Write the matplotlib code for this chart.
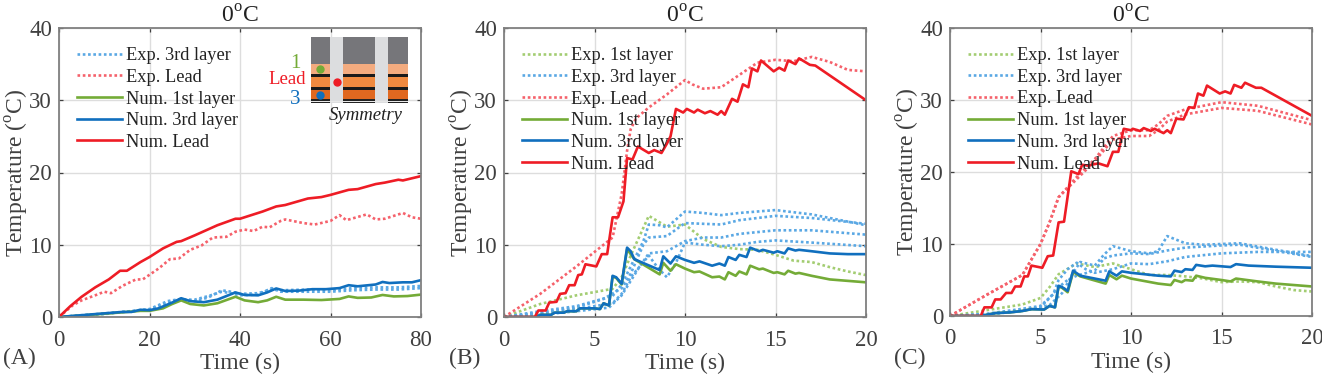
"""Temperature vs time at 0 C, three panels, with a cell schematic inset."""

import matplotlib

matplotlib.use("Agg")
import matplotlib.pyplot as plt
from matplotlib.patches import Rectangle

plt.rcParams["font.family"] = ["Liberation Serif", "DejaVu Serif"]
plt.rcParams["mathtext.fontset"] = "custom"
plt.rcParams["mathtext.rm"] = "Liberation Serif"

W, H = 1322, 377
GREEN, BLUE, RED = "#74ab37", "#106fbe", "#ee1c25"
GREEN_D, BLUE_D, RED_D = "#a3cd72", "#5aa8e4", "#f5616b"
TEXT = "#404040"

# panel A
a_lead_num_t = [0, 2.5, 5, 8, 11, 13.5, 15, 18, 20, 23, 26, 27, 30, 35, 39, 40, 45, 48, 50, 55, 58, 60, 64, 66, 70, 72, 75, 76, 80]
a_lead_num = [0, 1.5, 2.8, 4.1, 5.2, 6.4, 6.4, 7.6, 8.3, 9.5, 10.4, 10.5, 11.3, 12.7, 13.6, 13.6, 14.6, 15.3, 15.5, 16.4, 16.6, 16.9, 17.6, 17.7, 18.4, 18.6, 19.0, 18.9, 19.5]
a_lead_exp_t = [0, 3, 5, 8, 10, 11.5, 14, 17, 18.5, 22, 24.5, 26.5, 29, 31.5, 34, 37, 39, 41, 43, 45, 46.5, 49, 50, 54, 56.5, 60, 62, 63.5, 68, 70, 72, 76, 78, 80]
a_lead_exp = [0, 1.6, 2.3, 3.0, 3.5, 3.3, 4.3, 5.2, 5.2, 6.7, 8.0, 8.1, 9.3, 9.9, 11.0, 11.1, 11.8, 12.1, 11.9, 12.5, 12.4, 13.3, 13.5, 13.0, 12.8, 13.3, 14.1, 13.4, 14.2, 13.5, 13.6, 14.4, 13.8, 13.6]
a_l3_num_t = [0, 5, 11, 14, 16, 18, 20, 22, 25, 27, 29, 32, 35, 39, 41, 44, 46, 48, 50, 53, 56, 59, 62, 64, 66, 70, 71.5, 73, 76, 78, 80]
a_l3_num = [0, 0.25, 0.55, 0.7, 0.7, 1.0, 0.95, 1.2, 2.0, 2.6, 2.2, 2.05, 2.4, 3.4, 3.05, 3.0, 3.4, 3.95, 3.6, 3.65, 3.85, 3.85, 4.0, 4.4, 4.25, 4.5, 4.85, 4.7, 4.8, 4.8, 5.1]
a_l1_num_t = [0, 5, 11, 14, 18, 20, 23, 25, 27, 29, 32, 35, 39, 41, 44, 46, 48, 50, 54, 58, 62, 64, 66, 69, 71.5, 74, 77, 80]
a_l1_num = [0, 0.2, 0.5, 0.65, 0.85, 0.85, 1.2, 1.8, 2.3, 1.8, 1.6, 1.9, 2.8, 2.3, 2.05, 2.3, 2.8, 2.4, 2.4, 2.35, 2.5, 2.85, 2.65, 2.7, 3.05, 2.85, 2.9, 3.1]
a_l3_exp_t = [0, 10, 20, 24, 27, 30, 33, 36, 38, 40, 44, 47, 49, 55, 60, 65, 70, 75, 80]
a_l3_exp1 = [0, 0.5, 1.0, 2.0, 2.4, 2.4, 2.9, 3.5, 3.3, 3.0, 3.1, 4.0, 3.5, 3.5, 3.5, 3.7, 3.8, 3.8, 4.0]
a_l3_exp2 = [0, 0.4, 1.1, 2.2, 2.5, 2.2, 2.7, 3.7, 3.5, 3.2, 3.3, 3.8, 3.7, 3.8, 3.7, 4.0, 4.1, 4.1, 4.3]

# panel B
b_lead_num_t = [0, 1.7, 1.9, 2.3, 2.5, 2.9, 3.1, 3.4, 3.6, 3.9, 4.1, 4.3, 4.5, 5.1, 5.4, 5.7, 6.0, 6.3, 6.6, 6.8, 7.1, 7.4, 8, 8.3, 8.7, 9.0, 9.2, 9.5, 9.9, 10.1, 10.5, 10.7, 11.1, 11.4, 11.8, 12.0, 12.2, 12.6, 12.9, 13.2, 13.5, 13.7, 14, 14.2, 14.9, 15.2, 15.5, 15.7, 16.1, 16.3, 16.9, 17.2, 20]
b_lead_num = [0, 0, 0.9, 0.9, 2, 2.1, 3.2, 3.3, 4.4, 4.4, 5.8, 5.9, 7.3, 7, 8.7, 8.7, 13.8, 13.8, 16, 22, 21.8, 23.6, 22.7, 23.1, 22.7, 24, 25, 28.8, 28.3, 28.8, 28.3, 28.7, 28.2, 28.5, 28, 28.5, 28, 30.2, 29.8, 32.2, 31.8, 34.4, 34, 35.5, 34, 34.5, 34.1, 35.5, 35, 35.8, 34.9, 34.8, 30]
b_lead_exp_t = [0, 2, 4, 5.5, 6, 6.5, 6.8, 7, 7.3, 8, 9, 10, 10.4, 11, 12, 13, 14, 15, 16, 17, 18, 19, 20]
b_lead_exp = [0, 3.2, 7, 10, 11, 17, 23, 26, 27.5, 29, 30.8, 32.8, 32.2, 31.6, 31.8, 33.5, 35.2, 35.6, 35.4, 36, 35.3, 34.2, 34]
b_l1_exp_t = [0, 2, 4, 6, 6.5, 7, 8, 9, 10, 11, 12, 13, 14, 15, 16, 17, 18, 19, 20]
b_l1_exp = [0, 1.8, 3, 3.9, 5.5, 8.5, 14, 12.5, 12.8, 10.8, 9.7, 9.4, 9.3, 8.6, 7.8, 7.6, 6.9, 6.3, 5.8]
b_l3_exp1_t = [0, 2, 4, 6, 6.5, 7, 7.7, 8, 8.6, 9, 10, 11, 12, 13, 15, 17, 20]
b_l3_exp1 = [0, 0.8, 1.5, 2.9, 4.5, 7, 10.5, 12.8, 12.7, 12.4, 14.6, 14.4, 14.1, 14.4, 14.8, 14.2, 12.7]
b_l3_exp2_t = [0, 2, 4, 5.5, 6.5, 7, 7.7, 8, 9, 10, 12, 13, 15, 17, 20]
b_l3_exp2 = [0, 0.6, 1.3, 2.5, 4, 6, 10, 11, 11.2, 13, 12.8, 13.4, 14, 13.7, 12.9]
b_l3_exp3_t = [0, 2, 4, 6, 6.5, 7, 8, 8.5, 9, 9.5, 10, 11, 12, 13, 14, 15, 17, 20]
b_l3_exp3 = [0, 0.5, 1.1, 1.9, 3.2, 5.5, 8.5, 6.8, 5.5, 7.5, 10.3, 10, 9.8, 10, 10.4, 10.6, 10.3, 9.8]
b_l3_exp4_t = [0, 2, 4, 5.8, 6.5, 7, 7.5, 8, 9, 10, 11, 12, 13, 15, 17, 20]
b_l3_exp4 = [0, 0.3, 0.8, 1.3, 3, 5, 7, 8.8, 9.1, 10.5, 11, 11, 11.5, 12, 12, 11.4]
b_l3_num_t = [0, 1.8, 2, 2.6, 2.8, 3.3, 3.5, 4, 4.2, 4.7, 5, 5.3, 5.5, 5.8, 6.0, 6.2, 6.5, 6.8, 7, 7.2, 8.6, 8.8, 9.2, 9.5, 10, 10.5, 10.8, 11.5, 11.9, 12.2, 12.4, 12.8, 13, 13.4, 13.6, 14.1, 14.3, 14.9, 15.1, 15.5, 15.7, 16.1, 16.3, 17, 18, 19, 20]
b_l3_num = [0, 0, 0.3, 0.3, 0.6, 0.6, 0.8, 0.8, 1.2, 1.2, 1.2, 1.1, 1.9, 1.6, 5.7, 5.5, 4.6, 9.6, 9.1, 8, 6.5, 8.4, 7.4, 8.4, 7.9, 7.5, 7.7, 7.1, 7.4, 7.1, 8.3, 7.9, 8.6, 8.3, 9.6, 9.1, 9.3, 8.9, 9.1, 8.8, 9.5, 9.2, 9.3, 9.1, 8.8, 8.7, 8.7]
b_l1_num_t = [0, 1.8, 2, 2.6, 2.8, 3.3, 3.5, 4, 4.2, 4.7, 5, 5.3, 5.5, 5.8, 6.0, 6.2, 6.5, 6.8, 7.2, 8.6, 8.8, 9.2, 9.5, 10, 10.5, 10.8, 11.5, 11.9, 12.2, 12.4, 12.8, 13, 13.4, 13.6, 14.1, 14.3, 14.9, 15.1, 15.5, 15.7, 16.1, 16.3, 17, 18, 19, 20]
b_l1_num = [0, 0, 0.3, 0.3, 0.6, 0.6, 0.8, 0.8, 1.2, 1.2, 1.2, 1.1, 1.9, 1.6, 5.6, 5.4, 4.5, 9.4, 8, 5.9, 7.5, 6.4, 7.3, 6.7, 6.2, 6.3, 5.5, 5.6, 5.2, 6.2, 5.7, 6.3, 5.9, 7.1, 6.6, 6.7, 6.1, 6.2, 5.9, 6.4, 6, 6.1, 5.7, 5.2, 5, 4.8]

# panel C
c_lead_num_t = [0, 1.7, 1.9, 2.3, 2.5, 2.8, 3.1, 3.4, 3.6, 3.9, 4.1, 4.3, 4.5, 5.1, 5.4, 5.7, 6, 6.3, 6.7, 7.1, 7.3, 7.6, 8.2, 8.7, 9, 9.3, 9.6, 10, 10.1, 10.5, 10.7, 11.1, 11.3, 11.8, 12, 12.2, 12.5, 12.9, 13.2, 13.5, 13.7, 14, 14.2, 14.9, 15.2, 15.5, 15.7, 16.1, 16.3, 16.9, 17.2, 20]
c_lead_num = [0, 0, 1.2, 1.2, 2.3, 2.3, 3.2, 3.2, 4.1, 4.1, 5.5, 5.5, 7, 6.7, 8.3, 8.4, 13, 13.1, 20.1, 19.7, 21, 20.9, 21.2, 20.8, 22.8, 22.8, 26, 25.8, 26, 25.7, 26.1, 25.7, 26, 25.4, 25.8, 25.4, 27.4, 27.3, 29, 28.9, 30.9, 30.6, 32, 30.9, 31.2, 30.9, 32.1, 31.7, 32.4, 31.7, 31.7, 27.8]
c_lead_exp_t = [0, 2, 4, 5, 5.5, 6, 7, 8, 9, 10, 11, 11.5, 12, 13, 15, 17, 20]
c_lead_exp1 = [0, 2.9, 5.7, 10, 13, 16.5, 19, 21.5, 24.5, 25, 25, 25.8, 27, 28, 28.9, 28.5, 26.6]
c_lead_exp2 = [0, 2.9, 5.7, 10, 13, 16.5, 19.3, 21.8, 25, 25.8, 25.8, 26.6, 27.8, 28.7, 29.7, 29.2, 27.2]
c_l1_exp_t = [0, 2, 4, 5, 5.5, 6, 7, 8, 9, 10, 11, 12, 13, 14, 15, 16, 17, 18, 19, 20]
c_l1_exp = [0, 0.8, 1.6, 2.5, 4, 5.8, 7.3, 6.8, 7.3, 6.5, 5.7, 5.7, 5.5, 5.2, 4.7, 4.8, 4.7, 4.1, 3.6, 3.4]
c_l3_exp1_t = [0, 2, 4, 5, 5.7, 6, 6.5, 7, 7.5, 8, 9, 10, 11, 12, 13, 15, 17, 20]
c_l3_exp1 = [0, 0.3, 1, 1.4, 3, 5, 6.5, 7.4, 6.5, 6, 6.5, 7.3, 7.2, 7.6, 8.2, 8.7, 8.9, 8.9]
c_l3_exp2_t = [0, 2, 4, 5, 5.5, 6, 6.5, 7, 8, 8.5, 9, 10, 11, 12, 13, 15, 16, 20]
c_l3_exp2 = [0, 0.2, 0.8, 1.2, 2.5, 4, 5, 5.6, 6.3, 8, 8.4, 8.7, 8.6, 9.1, 9.5, 9.8, 9.9, 8.2]
c_l3_exp3_t = [0, 2, 4, 5.5, 6.2, 6.8, 7.2, 8, 8.5, 9, 10, 11, 11.5, 12, 13, 14, 16, 20]
c_l3_exp3 = [0, 0.2, 0.7, 1.5, 3.2, 6, 7.5, 7, 8.5, 9.7, 9, 8.7, 9, 11.1, 10.1, 9.9, 10.1, 8.3]
c_l3_num_t = [0, 1.7, 2.5, 3.3, 4, 4.5, 5.2, 5.5, 5.8, 6, 6.2, 6.5, 6.8, 7.2, 8.6, 8.8, 9.2, 9.5, 10, 11.5, 12.2, 12.4, 12.8, 13, 13.4, 13.6, 14.1, 14.5, 15.5, 15.8, 16.5, 18, 20]
c_l3_num = [0, 0, 0.4, 0.5, 0.7, 0.95, 0.9, 1.4, 1.2, 4.2, 4, 3.5, 6.3, 5.6, 4.9, 6.2, 5.6, 6.2, 6, 5.6, 5.5, 6.3, 6.1, 6.5, 6.4, 7.1, 6.9, 7, 6.8, 7.2, 7, 6.85, 6.7]
c_l1_num_t = [0, 1.7, 2.5, 3.3, 4, 4.5, 5.2, 5.5, 5.8, 6, 6.2, 6.5, 6.8, 7.2, 8.6, 8.8, 9.2, 9.5, 10, 11.5, 12.2, 12.4, 12.8, 13, 13.4, 13.6, 14.1, 15, 15.5, 15.8, 17, 18, 20]
c_l1_num = [0, 0, 0.4, 0.5, 0.7, 0.95, 0.9, 1.4, 1.2, 4.1, 3.9, 3.3, 6.1, 5.5, 4.5, 5.7, 5.1, 5.6, 5.2, 4.5, 4.3, 5, 4.7, 5, 4.9, 5.6, 5.3, 5, 4.8, 5.2, 4.8, 4.5, 4.1]

panel_letters = ["(A)", "(B)", "(C)"]
y_ticks = [0, 10, 20, 30, 40]
a_x_ticks = [0, 20, 40, 60, 80]
bc_x_ticks = [0, 5, 10, 15, 20]

DOTS = (0, (1, 1))


def make_axes(fig, left, right, top, bottom, xmax, xticks):
    ax = fig.add_axes([left / W, 1 - bottom / H, (right - left) / W, (bottom - top) / H])
    ax.set_xlim(0, xmax)
    ax.set_ylim(0, 40)
    ax.set_xticks(xticks)
    ax.set_yticks(y_ticks)
    ax.grid(True, color="#dddddd", linewidth=1.0)
    ax.set_axisbelow(True)
    ax.tick_params(direction="in", length=3, width=0.9, color="#404040", top=True, right=True,
                   labelsize=16.5, labelcolor=TEXT, pad=5)
    ax.tick_params(axis="x", pad=9)
    for sp in ax.spines.values():
        sp.set_color("#808080")
        sp.set_linewidth(1.3)
    ax.set_title(r"0$^{\mathrm{o}}$C", fontsize=17, color="#222222", pad=4)
    ax.set_xlabel("Time (s)", fontsize=17, color=TEXT, labelpad=2)
    ax.set_ylabel(r"Temperature ($^{\mathrm{o}}$C)", fontsize=17, color=TEXT, labelpad=-1)
    return ax


def exp_line(ax, t, y, color, label=None):
    ax.plot(t, y, color=color, linestyle=DOTS, linewidth=1.9, label=label)


def num_line(ax, t, y, color, label=None):
    ax.plot(t, y, color=color, linewidth=1.9, label=label, solid_joinstyle="round")


def add_legend(ax):
    ax.legend(loc="upper left", bbox_to_anchor=(0.03, 0.959), frameon=False, fontsize=13.2,
              handlelength=2.45, handletextpad=0.2, labelspacing=0.255, borderaxespad=0,
              labelcolor="#222222")


def add_schematic(fig):
    # drawn in figure pixels
    ins = fig.add_axes([0, 0, 1, 1], facecolor="none")
    ins.set_xlim(0, W)
    ins.set_ylim(H, 0)
    ins.axis("off")
    ins.add_patch(Rectangle((311, 37), 97, 66, color="#dcdddf", lw=0))
    for x0, x1 in [(311, 330), (343, 375), (388, 408)]:
        for y0, y1, col in [(37, 64, "#76767a"), (64, 74, "#f3ab7f"), (74, 77, "#1a1a1a"),
                            (77, 87, "#f08a40"), (87, 90, "#1a1a1a"), (90, 99, "#e06820"),
                            (99, 103, "#222222")]:
            ins.add_patch(Rectangle((x0, y0), x1 - x0, y1 - y0, color=col, lw=0))
    ins.add_patch(Rectangle((311, 101), 97, 1, color="#e8e8e8", lw=0))
    ins.plot([320], [69], "o", color=GREEN, ms=5)
    ins.plot([337], [82], "o", color=RED, ms=5)
    ins.plot([320], [95], "o", color=BLUE, ms=5)
    ins.text(295, 63, "1", color=GREEN, fontsize=15, ha="center", va="center")
    ins.text(287, 80, "Lead", color=RED, fontsize=13.5, ha="center", va="center")
    ins.text(295, 100, "3", color=BLUE, fontsize=15, ha="center", va="center")
    ins.text(366, 116, "Symmetry", style="italic", color="#222222", fontsize=13.5, ha="center", va="center")
    return ins


fig = plt.figure(figsize=(W / 100, H / 100), dpi=100)

ax_a = make_axes(fig, 59, 421, 28, 317, 80, a_x_ticks)
exp_line(ax_a, a_l3_exp_t, a_l3_exp1, BLUE_D, "Exp. 3rd layer")
exp_line(ax_a, a_l3_exp_t, a_l3_exp2, BLUE_D)
exp_line(ax_a, a_lead_exp_t, a_lead_exp, RED_D, "Exp. Lead")
num_line(ax_a, a_l1_num_t, a_l1_num, GREEN, "Num. 1st layer")
num_line(ax_a, a_l3_num_t, a_l3_num, BLUE, "Num. 3rd layer")
num_line(ax_a, a_lead_num_t, a_lead_num, RED, "Num. Lead")
add_legend(ax_a)

ax_b = make_axes(fig, 504, 866, 28, 317, 20, bc_x_ticks)
exp_line(ax_b, b_l1_exp_t, b_l1_exp, GREEN_D, "Exp. 1st layer")
exp_line(ax_b, b_l3_exp1_t, b_l3_exp1, BLUE_D, "Exp. 3rd layer")
exp_line(ax_b, b_l3_exp2_t, b_l3_exp2, BLUE_D)
exp_line(ax_b, b_l3_exp3_t, b_l3_exp3, BLUE_D)
exp_line(ax_b, b_l3_exp4_t, b_l3_exp4, BLUE_D)
exp_line(ax_b, b_lead_exp_t, b_lead_exp, RED_D, "Exp. Lead")
num_line(ax_b, b_l1_num_t, b_l1_num, GREEN, "Num. 1st layer")
num_line(ax_b, b_l3_num_t, b_l3_num, BLUE, "Num. 3rd layer")
num_line(ax_b, b_lead_num_t, b_lead_num, RED, "Num. Lead")
add_legend(ax_b)

ax_c = make_axes(fig, 950, 1312, 28, 316, 20, bc_x_ticks)
exp_line(ax_c, c_l1_exp_t, c_l1_exp, GREEN_D, "Exp. 1st layer")
exp_line(ax_c, c_l3_exp1_t, c_l3_exp1, BLUE_D, "Exp. 3rd layer")
exp_line(ax_c, c_l3_exp2_t, c_l3_exp2, BLUE_D)
exp_line(ax_c, c_l3_exp3_t, c_l3_exp3, BLUE_D)
exp_line(ax_c, c_lead_exp_t, c_lead_exp1, RED_D, "Exp. Lead")
exp_line(ax_c, c_lead_exp_t, c_lead_exp2, RED_D)
num_line(ax_c, c_l1_num_t, c_l1_num, GREEN, "Num. 1st layer")
num_line(ax_c, c_l3_num_t, c_l3_num, BLUE, "Num. 3rd layer")
num_line(ax_c, c_lead_num_t, c_lead_num, RED, "Num. Lead")
add_legend(ax_c)

ins = add_schematic(fig)
for x_px, letter in zip([3, 449, 894], panel_letters):
    ins.text(x_px, 358, letter, fontsize=17, color=TEXT, ha="left", va="center")

fig.savefig("out.png", dpi=100)
plt.close(fig)
